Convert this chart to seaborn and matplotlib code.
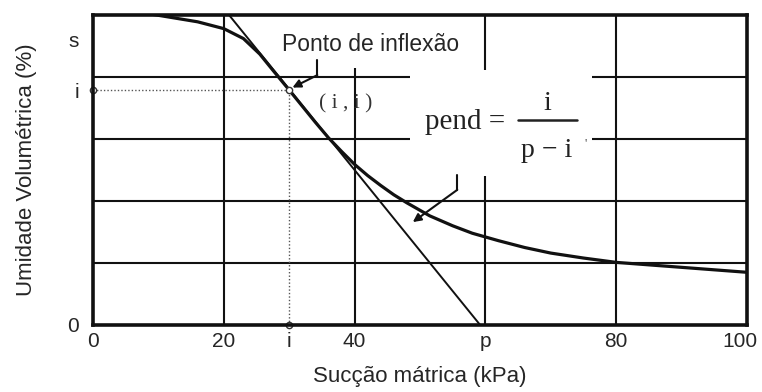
import matplotlib
matplotlib.use("Agg")
import matplotlib.pyplot as plt
from matplotlib.patches import Rectangle
from matplotlib.transforms import ScaledTranslation
import seaborn as sns
import pandas as pd

# ---- data ----
curve_x = [8, 12, 16, 20, 23, 25.5, 27.5, 30, 32, 34, 36, 38, 40, 42, 44, 46,
           48, 51.5, 55, 58, 62, 66, 70, 75, 80, 85, 90, 95, 100]
curve_y = [5.03, 4.96, 4.89, 4.78, 4.62, 4.37, 4.11, 3.79, 3.53, 3.27, 3.02,
           2.80, 2.59, 2.41, 2.25, 2.10, 1.97, 1.76, 1.60, 1.48, 1.36, 1.25,
           1.16, 1.08, 1.01, 0.97, 0.93, 0.89, 0.85]
tangent_x = [20.8, 59.2]
tangent_y = [5.0, 0.0]
infl_x = 30
infl_y = 3.79
sat_y = 4.6
xtick_vals = [0, 20, 30, 40, 60, 80, 100]
xtick_labels = ["0", "20", "i", "40", "p", "80", "100"]
ytick_vals = [0, infl_y, sat_y]
ytick_labels = ["0", "i", "s"]
grid_x = [20, 40, 60, 80]
grid_y = [1, 2, 3, 4]

sns.set_style("white")
plt.rcParams["font.family"] = ["Liberation Sans", "DejaVu Sans"]

fig = plt.figure(figsize=(7.62, 3.92), dpi=100)
W, H = 762, 392
ax = fig.add_axes([93 / W, 1 - 325 / H, (747 - 93) / W, (325 - 15) / H])
ax.set_xlim(0, 100)
ax.set_ylim(0, 5)

ink = "#111111"
txt = "#262626"

# grid
for gx in grid_x:
    ax.axvline(gx, color=ink, lw=1.5, zorder=1)
for gy in grid_y:
    ax.axhline(gy, color=ink, lw=1.5, zorder=1)

# white boxes behind annotations
ax.add_patch(Rectangle((48.5, 2.40), 27.8, 1.72, facecolor="white",
                       edgecolor="none", zorder=2))
ax.add_patch(Rectangle((37.5, 4.14), 10, 0.9, facecolor="white",
                       edgecolor="none", zorder=2))

# dotted guides
ax.plot([0, infl_x], [infl_y, infl_y], ls=(0, (1, 1.5)), color="#555555",
        lw=1.0, zorder=3)
ax.plot([infl_x, infl_x], [0, infl_y], ls=(0, (1, 1.5)), color="#555555",
        lw=1.0, zorder=3)

# curve and tangent
df = pd.DataFrame({"x": curve_x, "y": curve_y})
sns.lineplot(data=df, x="x", y="y", ax=ax, color=ink, lw=2.3, zorder=5,
             sort=False)
tf = pd.DataFrame({"x": tangent_x, "y": tangent_y})
sns.lineplot(data=tf, x="x", y="y", ax=ax, color=ink, lw=1.4, zorder=4)

# markers
ax.plot([0, infl_x, infl_x], [infl_y, 0, infl_y], ls="none", marker="o",
        ms=4.5, mfc="white", mec="#333333", mew=1.0, zorder=6, clip_on=False)

# spines
for s in ax.spines.values():
    s.set_linewidth(2.6)
    s.set_color(ink)
    s.set_zorder(7)

ax.set_xticks(xtick_vals)
ax.set_xticklabels(xtick_labels)
ax.set_yticks(ytick_vals)
ax.set_yticklabels(ytick_labels)
ax.tick_params(axis="x", length=0, labelsize=15, colors=txt, pad=5)
ax.tick_params(axis="y", length=0, labelsize=15, colors=txt, pad=10)
ax.grid(False)
last = ax.get_xticklabels()[-1]
last.set_transform(last.get_transform() +
                   ScaledTranslation(-7 / 100, 0, fig.dpi_scale_trans))
ax.set_xlabel("Sucção mátrica (kPa)", fontsize=16, color=txt, labelpad=11)
ax.set_ylabel("Umidade Volumétrica (%)", fontsize=16, color=txt, labelpad=22)

# annotations
ax.text(42.4, 4.53, "Ponto de inflexão", fontsize=16.5, color=txt,
        ha="center", va="center", zorder=8)
ax.text(38.6, 3.56, "( i , i )", fontsize=15.5, color="#333333",
        family=["Liberation Serif"], ha="center", va="center", zorder=8)

ax.plot([34.3, 34.3], [4.27, 4.03], color=ink, lw=1.5, zorder=8)
ax.annotate("", xy=(infl_x + 0.5, infl_y + 0.04), xytext=(34.3, 4.03),
            arrowprops=dict(arrowstyle="-|>", color=ink, lw=1.5,
                            mutation_scale=12, shrinkA=0, shrinkB=0),
            zorder=8)
ax.plot([55.7, 55.7], [2.42, 2.18], color=ink, lw=1.5, zorder=8)
ax.annotate("", xy=(48.9, 1.66), xytext=(55.7, 2.18),
            arrowprops=dict(arrowstyle="-|>", color=ink, lw=1.5,
                            mutation_scale=12, shrinkA=0, shrinkB=0),
            zorder=8)

# formula
serif = ["Liberation Serif", "DejaVu Serif"]
ax.text(50.8, 3.27, "pend =", fontsize=21, family=serif, color="#222222",
        ha="left", va="center", zorder=8)
ax.text(69.4, 3.58, "i", fontsize=20, family=serif, color="#222222",
        ha="center", va="center", zorder=8)
ax.plot([65.0, 74.0], [3.31, 3.31], color="#222222", lw=1.8, zorder=8)
ax.text(69.4, 2.82, "p − i", fontsize=20, family=serif, color="#222222",
        ha="center", va="center", zorder=8)
ax.text(75.3, 2.92, "'", fontsize=9, family=serif, color="#444444",
        ha="center", va="center", zorder=8)

fig.savefig("out.png", dpi=100)
